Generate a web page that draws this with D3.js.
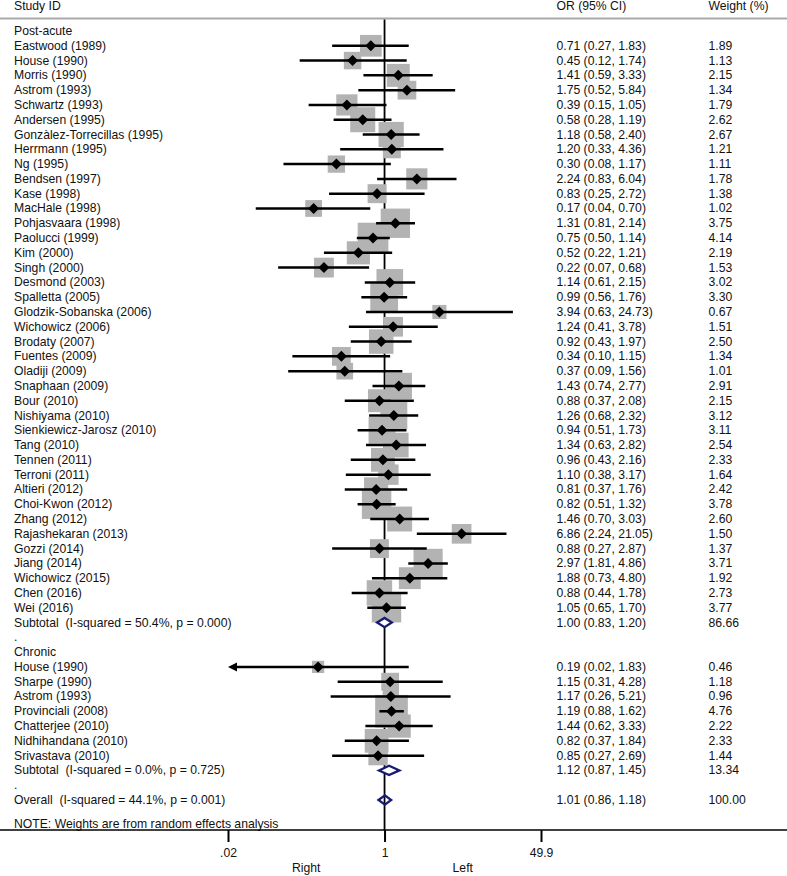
<!DOCTYPE html>
<html>
<head>
<meta charset="utf-8">
<script src="https://cdn.jsdelivr.net/npm/d3@7"></script>
<style>
  html, body { margin: 0; padding: 0; background: #fff; }
  svg { display: block; }
  text { font-family: "Liberation Sans", Arial, Helvetica, sans-serif; font-size: 12.2px; fill: #111; white-space: pre; }
</style>
</head>
<body>
<svg id="chart" width="787" height="876"></svg>
<script>
// ---------- DATA ----------
const postAcuteStudies = [
  "Eastwood (1989)", "House (1990)", "Morris (1990)", "Astrom (1993)", "Schwartz (1993)",
  "Andersen (1995)", "Gonzàlez-Torrecillas (1995)", "Herrmann (1995)", "Ng (1995)", "Bendsen (1997)",
  "Kase (1998)", "MacHale (1998)", "Pohjasvaara (1998)", "Paolucci (1999)", "Kim (2000)",
  "Singh (2000)", "Desmond (2003)", "Spalletta (2005)", "Glodzik-Sobanska (2006)", "Wichowicz (2006)",
  "Brodaty (2007)", "Fuentes (2009)", "Oladiji (2009)", "Snaphaan (2009)", "Bour (2010)",
  "Nishiyama (2010)", "Sienkiewicz-Jarosz (2010)", "Tang (2010)", "Tennen (2011)", "Terroni (2011)",
  "Altieri (2012)", "Choi-Kwon (2012)", "Zhang (2012)", "Rajashekaran (2013)", "Gozzi (2014)",
  "Jiang (2014)", "Wichowicz (2015)", "Chen (2016)", "Wei (2016)"
];
const postAcuteOR = [0.71, 0.45, 1.41, 1.75, 0.39, 0.58, 1.18, 1.20, 0.30, 2.24, 0.83, 0.17, 1.31, 0.75, 0.52,
  0.22, 1.14, 0.99, 3.94, 1.24, 0.92, 0.34, 0.37, 1.43, 0.88, 1.26, 0.94, 1.34, 0.96, 1.10,
  0.81, 0.82, 1.46, 6.86, 0.88, 2.97, 1.88, 0.88, 1.05];
const postAcuteLower = [0.27, 0.12, 0.59, 0.52, 0.15, 0.28, 0.58, 0.33, 0.08, 0.83, 0.25, 0.04, 0.81, 0.50, 0.22,
  0.07, 0.61, 0.56, 0.63, 0.41, 0.43, 0.10, 0.09, 0.74, 0.37, 0.68, 0.51, 0.63, 0.43, 0.38,
  0.37, 0.51, 0.70, 2.24, 0.27, 1.81, 0.73, 0.44, 0.65];
const postAcuteUpper = [1.83, 1.74, 3.33, 5.84, 1.05, 1.19, 2.40, 4.36, 1.17, 6.04, 2.72, 0.70, 2.14, 1.14, 1.21,
  0.68, 2.15, 1.76, 24.73, 3.78, 1.97, 1.15, 1.56, 2.77, 2.08, 2.32, 1.73, 2.82, 2.16, 3.17,
  1.76, 1.32, 3.03, 21.05, 2.87, 4.86, 4.80, 1.78, 1.70];
const postAcuteWeight = [1.89, 1.13, 2.15, 1.34, 1.79, 2.62, 2.67, 1.21, 1.11, 1.78, 1.38, 1.02, 3.75, 4.14, 2.19,
  1.53, 3.02, 3.30, 0.67, 1.51, 2.50, 1.34, 1.01, 2.91, 2.15, 3.12, 3.11, 2.54, 2.33, 1.64,
  2.42, 3.78, 2.60, 1.50, 1.37, 3.71, 1.92, 2.73, 3.77];

const chronicStudies = ["House (1990)", "Sharpe (1990)", "Astrom (1993)", "Provinciali (2008)",
  "Chatterjee (2010)", "Nidhihandana (2010)", "Srivastava (2010)"];
const chronicOR = [0.19, 1.15, 1.17, 1.19, 1.44, 0.82, 0.85];
const chronicLower = [0.02, 0.31, 0.26, 0.88, 0.62, 0.37, 0.27];
const chronicUpper = [1.83, 4.28, 5.21, 1.62, 3.33, 1.84, 2.69];
const chronicWeight = [0.46, 1.18, 0.96, 4.76, 2.22, 2.33, 1.44];

const groupNames = ["Post-acute", "Chronic"];
const pooledLabels = ["Subtotal  (I-squared = 50.4%, p = 0.000)", "Subtotal  (I-squared = 0.0%, p = 0.725)", "Overall  (I-squared = 44.1%, p = 0.001)"];
const pooledOR = [1.00, 1.12, 1.01];
const pooledLower = [0.83, 0.87, 0.86];
const pooledUpper = [1.20, 1.45, 1.18];
const pooledWeight = [86.66, 13.34, 100.00];

const tickValues = [0.02, 1, 49.9];
const tickLabels = [".02", "1", "49.9"];
const sideLabels = ["Right", "Left"];
const columnHeaders = ["Study ID", "OR (95% CI)", "Weight (%)"];
const noteText = "NOTE: Weights are from random effects analysis";

// ---------- BUILD ROWS ----------
const rows = [];
function addGroup(gi, names, or, lo, hi, w) {
  rows.push({ type: "group", label: groupNames[gi] });
  names.forEach((n, i) => rows.push({ type: "study", label: n, or: or[i], lo: lo[i], hi: hi[i], w: w[i] }));
  rows.push({ type: "pooled", label: pooledLabels[gi], or: pooledOR[gi], lo: pooledLower[gi], hi: pooledUpper[gi], w: pooledWeight[gi], fill: "#fff" });
  rows.push({ type: "blank", label: "." });
}
addGroup(0, postAcuteStudies, postAcuteOR, postAcuteLower, postAcuteUpper, postAcuteWeight);
addGroup(1, chronicStudies, chronicOR, chronicLower, chronicUpper, chronicWeight);
rows.push({ type: "pooled", label: pooledLabels[2], or: pooledOR[2], lo: pooledLower[2], hi: pooledUpper[2], w: pooledWeight[2], fill: "none" });
rows.forEach((r, i) => r.idx = i);

// ---------- SCALES ----------
const svg = d3.select("#chart");
const W = 787;
const x = d3.scaleLog().domain([0.02, 49.9]).range([228, 541]);
const y = d3.scaleLinear().domain([0, rows.length - 1]).range([31, 800]);
const axisY = 830;
const boxSide = d => 3 + 13.6 * Math.sqrt(d.w);
const fmt = d3.format(".2f");
const navy = "#1a1a72";

// header
svg.append("text").attr("x", 14).attr("y", 6).attr("dominant-baseline", "central").text(columnHeaders[0]);
svg.append("text").attr("x", 556.5).attr("y", 6).attr("dominant-baseline", "central").text(columnHeaders[1]);
svg.append("text").attr("x", 708.5).attr("y", 6).attr("dominant-baseline", "central").text(columnHeaders[2]);
svg.append("line").attr("x1", 0).attr("x2", W).attr("y1", 18.5).attr("y2", 18.5)
  .attr("stroke", "#a9a9a9").attr("stroke-width", 2);

// reference line at 1
svg.append("line").attr("x1", x(1)).attr("x2", x(1)).attr("y1", 19.5).attr("y2", axisY)
  .attr("stroke", "#000").attr("stroke-width", 1.8);

const studies = rows.filter(r => r.type === "study");

// boxes
svg.append("g").selectAll("rect").data(studies).join("rect")
  .attr("x", d => x(d.or) - boxSide(d) / 2)
  .attr("y", d => y(d.idx) - boxSide(d) / 2)
  .attr("width", boxSide).attr("height", boxSide)
  .attr("fill", "#b3b3b3");

// CI lines
const xmin = x.domain()[0];
svg.append("g").selectAll("line").data(studies).join("line")
  .attr("x1", d => d.lo <= xmin ? x(xmin) + 6 : x(d.lo))
  .attr("x2", d => x(d.hi))
  .attr("y1", d => y(d.idx)).attr("y2", d => y(d.idx))
  .attr("stroke", "#000").attr("stroke-width", 2.5);

// arrows for truncated CI
svg.append("g").selectAll("path").data(studies.filter(d => d.lo <= xmin)).join("path")
  .attr("d", d => {
    const x0 = x(xmin), yy = y(d.idx);
    return `M${x0},${yy} L${x0 + 9},${yy - 4.5} L${x0 + 9},${yy + 4.5} Z`;
  })
  .attr("fill", "#000");

// point diamonds
svg.append("g").selectAll("path").data(studies).join("path")
  .attr("d", d => {
    const cx = x(d.or), cy = y(d.idx), h = 5.5;
    return `M${cx - h},${cy} L${cx},${cy - h} L${cx + h},${cy} L${cx},${cy + h} Z`;
  })
  .attr("fill", "#000");

// pooled diamonds
svg.append("g").selectAll("path").data(rows.filter(r => r.type === "pooled")).join("path")
  .attr("d", d => {
    const cy = y(d.idx), h = 4.6;
    return `M${x(d.lo)},${cy} L${x(d.or)},${cy - h} L${x(d.hi)},${cy} L${x(d.or)},${cy + h} Z`;
  })
  .attr("fill", d => d.fill).attr("stroke", navy).attr("stroke-width", 2.3)
  .attr("stroke-linejoin", "miter");

// left labels
svg.append("g").selectAll("text").data(rows).join("text")
  .attr("x", 14).attr("y", d => y(d.idx)).attr("dominant-baseline", "central")
  .text(d => d.label);

// OR and weight columns
const withValues = rows.filter(r => r.type === "study" || r.type === "pooled");
svg.append("g").selectAll("text").data(withValues).join("text")
  .attr("x", 556.5).attr("y", d => y(d.idx)).attr("dominant-baseline", "central")
  .text(d => `${fmt(d.or)} (${fmt(d.lo)}, ${fmt(d.hi)})`);
svg.append("g").selectAll("text").data(withValues).join("text")
  .attr("x", 708.5).attr("y", d => y(d.idx)).attr("dominant-baseline", "central")
  .text(d => fmt(d.w));

// note
svg.append("text").attr("x", 14).attr("y", 823.5).attr("dominant-baseline", "central").text(noteText);

// axis
const axis = d3.axisBottom(x).tickValues(tickValues)
  .tickFormat((d, i) => tickLabels[i]).tickSize(12).tickPadding(6);
const gAxis = svg.append("g").attr("transform", `translate(0,${axisY})`).call(axis);
gAxis.select(".domain").remove();
gAxis.selectAll(".tick line").attr("stroke", "#000").attr("stroke-width", 2);
gAxis.selectAll(".tick text").attr("fill", "#111")
  .style("font-family", '"Liberation Sans", Arial, Helvetica, sans-serif').style("font-size", "12.2px");
svg.append("line").attr("x1", 0).attr("x2", W).attr("y1", axisY).attr("y2", axisY)
  .attr("stroke", "#000").attr("stroke-width", 1.5);

// side labels
svg.append("text").attr("x", (x(tickValues[0]) + x(tickValues[1])) / 2).attr("y", 868)
  .attr("text-anchor", "middle").attr("dominant-baseline", "central").text(sideLabels[0]);
svg.append("text").attr("x", (x(tickValues[1]) + x(tickValues[2])) / 2).attr("y", 868)
  .attr("text-anchor", "middle").attr("dominant-baseline", "central").text(sideLabels[1]);
</script>
</body>
</html>
